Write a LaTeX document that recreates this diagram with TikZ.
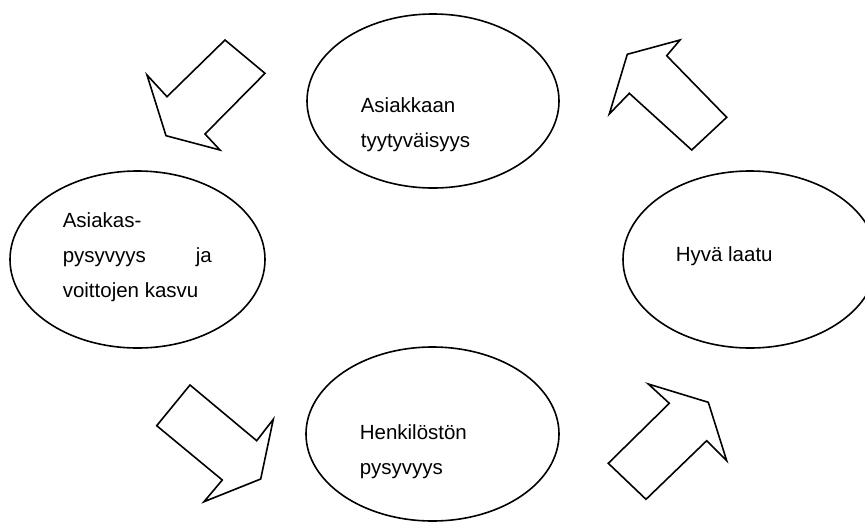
\documentclass[tikz,border=0pt]{standalone}
\usepackage{fontspec}
\setmainfont{Liberation Sans}
\usetikzlibrary{shapes.geometric}
\begin{document}
\begin{tikzpicture}[x=1pt,y=-1pt,line width=1.6pt,line join=miter,
  bubble/.style={draw,ellipse,inner sep=0pt},
  % base anchor of a multi-line label sits on its last line
  label/.style={anchor=base west,inner sep=0pt,align=left,
    font=\fontsize{20.5}{35}\selectfont},
  fatarrow/.style={draw,fill=white}]
\useasboundingbox (0,0) rectangle (865,523);
\clip (0,0) rectangle (865,523);

% the four stages of the cycle
\node[bubble,minimum width=252pt,minimum height=174pt] (sat) at (433,101) {};
\node[bubble,minimum width=255pt,minimum height=177pt] (ret) at (137.5,259.5) {};
\node[bubble,minimum width=254pt,minimum height=177pt] (qual) at (750,259.5) {};
\node[bubble,minimum width=253pt,minimum height=174pt] (staff) at (432.5,434) {};

\node[label] (satT) at (360,147) {Asiakkaan\\tyytyväisyys};
\node[label] (retT) at (62,297) {Asiakas-\\\makebox[149pt][s]{pysyvyys\hfill ja}\\voittojen kasvu};
\node[label] (qualT) at (675,261) {Hyvä laatu};
\node[label] (staffT) at (359,474) {Henkilöstön\\pysyvyys};

% block arrows between the stages
\draw[fatarrow] (225,40) -- (265,73.3) -- (205,134) -- (220,150) -- (166,135.7)
  -- (147,75) -- (167,96.7) -- cycle;
\draw[fatarrow] (680,40) -- (666.7,55.7) -- (726.7,117.3) -- (691.7,150)
  -- (629.3,93.3) -- (609.3,114) -- (627.3,54.3) -- cycle;
\draw[fatarrow] (190,385) -- (256.7,440.7) -- (273.3,419.3) -- (260.7,479)
  -- (204,501.7) -- (222.3,480) -- (156.7,425.7) -- cycle;
\draw[fatarrow] (648.3,384) -- (708.3,402.3) -- (726.7,460.7) -- (706.7,440.7)
  -- (646,499.3) -- (608.3,463.3) -- (669.3,403.3) -- cycle;
\end{tikzpicture}
\end{document}
